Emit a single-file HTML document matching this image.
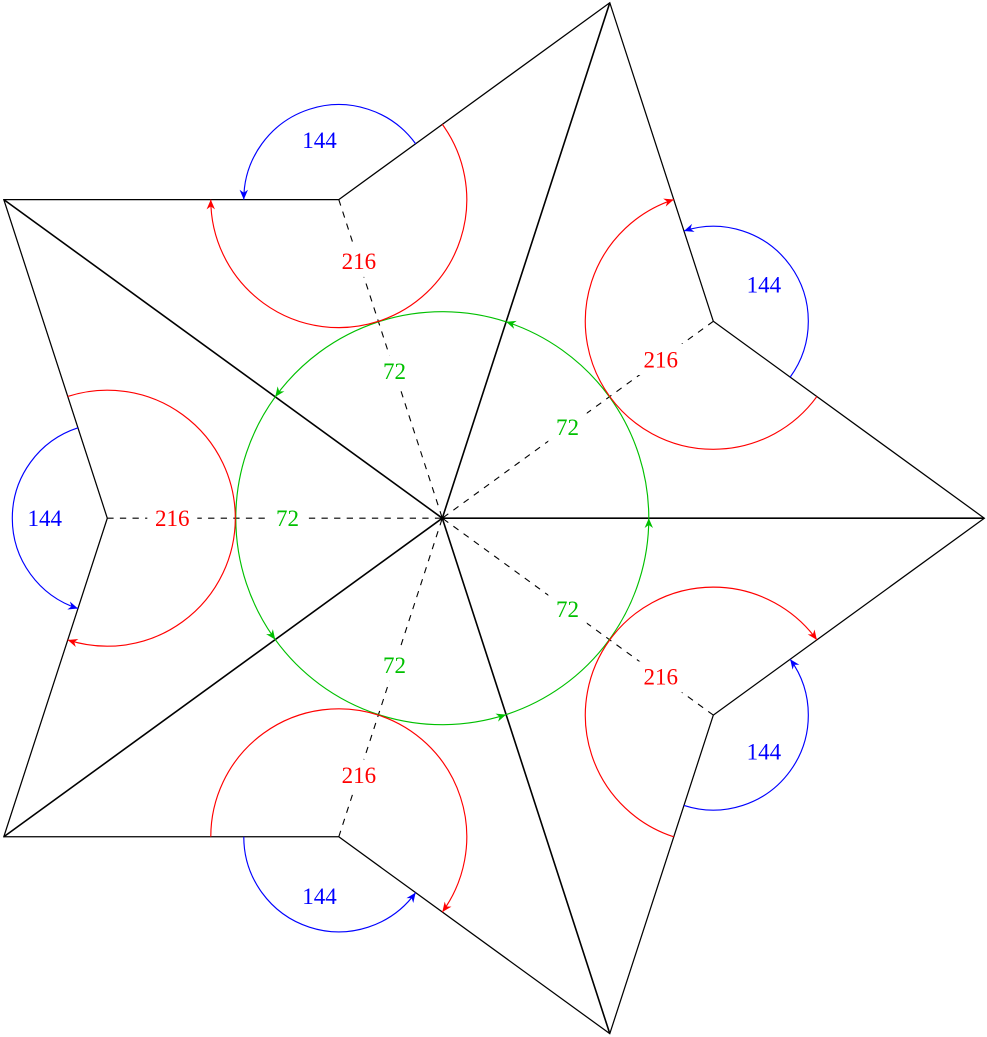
<!DOCTYPE html>
<html>
<head>
<meta charset="utf-8">
<style>
  html, body { margin: 0; padding: 0; background: #ffffff; }
  svg { display: block; }
  text { font-family: "Liberation Serif", "DejaVu Serif", serif; font-size: 23px; text-anchor: middle; }
</style>
</head>
<body>
<svg width="987" height="1037" viewBox="0 0 987 1037" xmlns="http://www.w3.org/2000/svg">
  <defs>
    <marker id="ab" markerUnits="userSpaceOnUse" viewBox="-12 -12 24 24" markerWidth="24" markerHeight="24" refX="0" refY="0" orient="auto" overflow="visible">
      <path d="M0,0 L-9.8,-4.2 L-6.8,0 L-9.8,4.2 Z" fill="#0000ff"/>
    </marker>
    <marker id="ar" markerUnits="userSpaceOnUse" viewBox="-12 -12 24 24" markerWidth="24" markerHeight="24" refX="0" refY="0" orient="auto" overflow="visible">
      <path d="M0,0 L-9.8,-4.2 L-6.8,0 L-9.8,4.2 Z" fill="#ff0000"/>
    </marker>
    <marker id="ag" markerUnits="userSpaceOnUse" viewBox="-12 -12 24 24" markerWidth="24" markerHeight="24" refX="0" refY="0" orient="auto" overflow="visible">
      <path d="M0,0 L-9.8,-4.2 L-6.8,0 L-9.8,4.2 Z" fill="#00c000"/>
    </marker>
  </defs>

  <rect x="0" y="0" width="987" height="1037" fill="#ffffff"/>

  <!-- dashed lines inner vertex -> center -->
  <g stroke="#000" stroke-width="1.1" stroke-dasharray="6.3 6.3" fill="none">
    <line x1="713.32" y1="321.29" x2="442.3" y2="518.2"/>
    <line x1="338.78" y1="199.60" x2="442.3" y2="518.2"/>
    <line x1="107.3" y1="518.2" x2="442.3" y2="518.2"/>
    <line x1="338.78" y1="836.80" x2="442.3" y2="518.2"/>
    <line x1="713.32" y1="715.11" x2="442.3" y2="518.2"/>
  </g>

  <!-- label white boxes on dashed lines -->
  <g fill="#ffffff">
    <rect x="548.29" y="411.71" width="38.5" height="31"/>
    <rect x="375.21" y="355.48" width="38.5" height="31"/>
    <rect x="268.25" y="502.7" width="38.5" height="31"/>
    <rect x="375.21" y="649.92" width="38.5" height="31"/>
    <rect x="548.29" y="593.69" width="38.5" height="31"/>

    <rect x="635.73" y="344.0" width="50" height="31"/>
    <rect x="333.87" y="245.92" width="50" height="31"/>
    <rect x="147.3" y="502.7" width="50" height="31"/>
    <rect x="333.87" y="759.48" width="50" height="31"/>
    <rect x="635.73" y="661.4" width="50" height="31"/>
  </g>

  <!-- star outline -->
  <polygon points="984.3,518.2 713.32,321.29 609.79,2.73 338.78,199.60 3.81,199.62 107.3,518.2 3.81,836.78 338.78,836.80 609.79,1033.67 713.32,715.11"
           fill="none" stroke="#000" stroke-width="1.25" stroke-linejoin="miter"/>

  <!-- solid lines center -> outer points -->
  <g stroke="#000" stroke-width="1.6" fill="none">
    <line x1="442.3" y1="518.2" x2="984.3" y2="518.2"/>
    <line x1="442.3" y1="518.2" x2="609.79" y2="2.73"/>
    <line x1="442.3" y1="518.2" x2="3.81" y2="199.62"/>
    <line x1="442.3" y1="518.2" x2="3.81" y2="836.78"/>
    <line x1="442.3" y1="518.2" x2="609.79" y2="1033.67"/>
  </g>

  <!-- green arcs -->
  <g stroke="#00c000" stroke-width="1.15" fill="none" marker-end="url(#ag)">
    <path d="M648.8,518.2 A206.5,206.5 0 0 0 506.11,321.81"/>
    <path d="M506.11,321.81 A206.5,206.5 0 0 0 275.24,396.82"/>
    <path d="M275.24,396.82 A206.5,206.5 0 0 0 275.24,639.58"/>
    <path d="M275.24,639.58 A206.5,206.5 0 0 0 506.11,714.59"/>
    <path d="M506.11,714.59 A206.5,206.5 0 0 0 648.8,518.2"/>
  </g>

  <!-- blue arcs (144) -->
  <g stroke="#0000ff" stroke-width="1.15" fill="none" marker-end="url(#ab)">
    <path d="M790.18,377.13 A95,95 0 0 0 683.96,230.94"/>
    <path d="M415.64,143.76 A95,95 0 0 0 243.78,199.60"/>
    <path d="M77.94,427.85 A95,95 0 0 0 77.94,608.55"/>
    <path d="M243.78,836.80 A95,95 0 0 0 415.64,892.64"/>
    <path d="M683.96,805.46 A95,95 0 0 0 790.18,659.27"/>
  </g>

  <!-- red arcs (216) -->
  <g stroke="#ff0000" stroke-width="1.15" fill="none" marker-end="url(#ar)">
    <path d="M816.87,396.53 A128,128 0 1 1 673.77,199.56"/>
    <path d="M442.33,124.36 A128,128 0 1 1 210.78,199.60"/>
    <path d="M67.75,396.47 A128,128 0 1 1 67.75,639.94"/>
    <path d="M210.78,836.80 A128,128 0 1 1 442.33,912.04"/>
    <path d="M673.77,836.85 A128,128 0 1 1 816.87,639.87"/>
  </g>

  <!-- labels -->
  <g fill="#00c000">
    <text x="567.54" y="435.0">72</text>
    <text x="394.46" y="378.8">72</text>
    <text x="287.5" y="526.0">72</text>
    <text x="394.46" y="673.2">72</text>
    <text x="567.54" y="617.0">72</text>
  </g>
  <g fill="#ff0000">
    <text x="660.73" y="367.3">216</text>
    <text x="358.87" y="269.2">216</text>
    <text x="172.3" y="526.0">216</text>
    <text x="358.87" y="782.8">216</text>
    <text x="660.73" y="684.7">216</text>
  </g>
  <g fill="#0000ff">
    <text x="763.88" y="292.3">144</text>
    <text x="319.47" y="148.0">144</text>
    <text x="44.8" y="526.0">144</text>
    <text x="319.47" y="904.0">144</text>
    <text x="763.88" y="759.6">144</text>
  </g>
</svg>
</body>
</html>
